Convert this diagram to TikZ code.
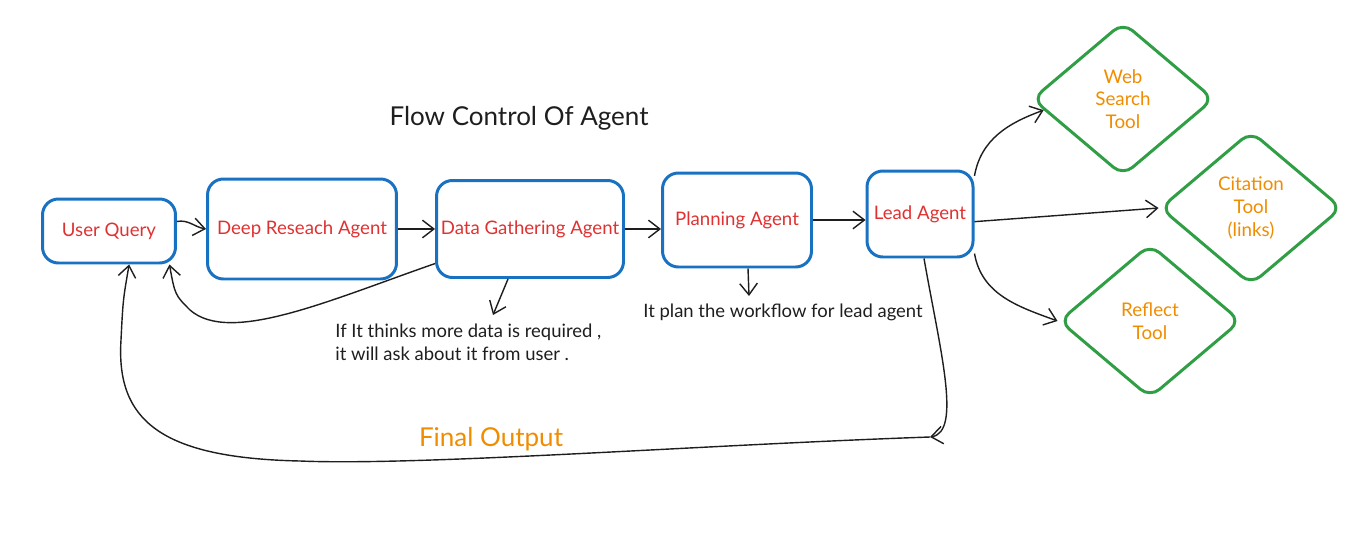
\documentclass[tikz,border=0pt]{standalone}
\usepackage{fontspec}
\setmainfont{Lato}
\usetikzlibrary{arrows.meta,shapes.geometric}
\definecolor{boxblue}{HTML}{1971C2}
\definecolor{txtred}{HTML}{E03131}
\definecolor{toolgreen}{HTML}{2F9E44}
\definecolor{tooltxt}{HTML}{F08C00}
\definecolor{ink}{HTML}{1E1E1E}
\begin{document}
\begin{tikzpicture}[x=0.02cm,y=-0.02cm,
  agent/.style={draw=boxblue,line width=1.7pt,rounded corners=9pt,text=txtred,font=\fontsize{10.6}{12}\selectfont,inner sep=0pt},
  tool/.style={diamond,draw=toolgreen,line width=1.7pt,rounded corners=7pt,text=tooltxt,align=center,font=\fontsize{10.7}{13}\selectfont,minimum width=3.64cm,minimum height=3.08cm,inner sep=0pt},
  arr/.style={ink,line width=0.8pt,-{Straight Barb[length=6.5pt,width=10pt]}},
  note/.style={text=ink,align=left,font=\fontsize{10.5}{13}\selectfont,inner sep=0pt}]
\useasboundingbox (0,0) rectangle (1364,534);
\node[text=ink,font=\fontsize{14.8}{17}\selectfont] (title) at (519,118) {Flow Control Of Agent};
\node[agent,minimum width=2.66cm,minimum height=1.28cm] (uq) at (109,231) {User Query};
\node[agent,minimum width=3.78cm,minimum height=2.0cm] (dra) at (302,229) {Deep Reseach Agent};
\node[agent,minimum width=3.74cm,minimum height=1.94cm] (data) at (530,229) {Data Gathering Agent};
\node[agent,minimum width=2.98cm,minimum height=1.88cm] (plan) at (737,220) {Planning Agent};
\node[agent,minimum width=2.12cm,minimum height=1.72cm] (lead) at (920,214) {Lead Agent};
\node[tool] (web) at (1123,99) {Web\\Search\\Tool};
\node[tool] (cit) at (1251,208) {Citation\\Tool\\(links)};
\node[tool] (ref) at (1150,321) {Reflect\\Tool};
\node[note,anchor=west] (gnote) at (335,342) {If It thinks more data is required ,\\it will ask about it from user .};
\node[note,anchor=west] (pnote) at (643,312) {It plan the workflow for lead agent};
\node[text=tooltxt,font=\fontsize{14.8}{17}\selectfont] (fout) at (491,439) {Final Output};
\coordinate (gtip) at (493,315);
\coordinate (ptip) at (749,296);
\coordinate (turn) at (930,437);
\draw[arr] (uq.8) to[out=10,in=170] (dra.west);
\draw[arr] (dra.east) -- (dra.east -| data.west);
\draw[arr] (data.east) -- (data.east -| plan.west);
\draw[arr] (plan.east) -- (plan.east -| lead.west);
\draw[arr] (lead.35) to[out=80,in=200] (web.188);
\draw[arr] (lead.-8) -- (cit.west);
\draw[arr] (lead.-36) to[out=-80,in=160] (ref.west);
\draw[arr] (data.200) .. controls (330,300) and (230,345) .. (190,310) .. controls (175,295) .. (uq.-29);
\draw[arr] ([xshift=-0.44cm]data.south) -- (gtip);
\draw[arr] ([xshift=0.22cm]plan.south) -- (ptip);
\draw[arr] ([xshift=0.08cm]lead.south) .. controls (940,350) and (962,432) .. (turn);
\draw[arr] (turn) .. controls (700,445) and (420,466) .. (300,461) .. controls (160,458) and (116,420) .. (121,340) .. controls (123,300) .. (uq.-59);
\end{tikzpicture}
\end{document}
